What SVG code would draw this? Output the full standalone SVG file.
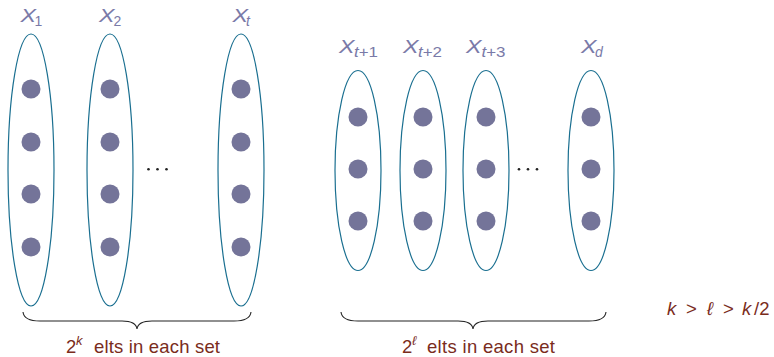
<svg xmlns="http://www.w3.org/2000/svg" width="774" height="357" viewBox="0 0 774 357">
<style>
.set{fill:none;stroke:#1a6f90;stroke-width:1.2}
.dot{fill:#747499}
.lbl{font-family:"Liberation Sans",Arial,sans-serif;font-size:18px;fill:#7a7aa8;font-style:italic}
.sub{font-family:"Liberation Sans",Arial,sans-serif;font-size:14px;fill:#7a7aa8}
.it{font-style:italic}
.brace{fill:none;stroke:#222;stroke-width:1.1}
.note{font-family:"Liberation Sans",Arial,sans-serif;font-size:18.5px;fill:#7a2c1c}
.sup{font-family:"Liberation Sans",Arial,sans-serif;font-size:13px;fill:#7a2c1c;font-style:italic}
.sm{fill:#222}
</style>
<rect width="774" height="357" fill="#fff"/>
<g id="set1">
<ellipse class="set" cx="31" cy="170" rx="23" ry="136"/>
<circle class="dot" cx="31" cy="89" r="9.5"/><circle class="dot" cx="31" cy="142" r="9.5"/><circle class="dot" cx="31" cy="194" r="9.5"/><circle class="dot" cx="31" cy="247" r="9.5"/>
<text class="lbl" x="20.5" y="22" textLength="15.5" lengthAdjust="spacingAndGlyphs">X</text>
<text class="sub" x="34.5" y="25.5">1</text>
</g>
<g id="set2">
<ellipse class="set" cx="110" cy="170" rx="23" ry="136"/>
<circle class="dot" cx="110" cy="89" r="9.5"/><circle class="dot" cx="110" cy="142" r="9.5"/><circle class="dot" cx="110" cy="194" r="9.5"/><circle class="dot" cx="110" cy="247" r="9.5"/>
<text class="lbl" x="99" y="22" textLength="15.5" lengthAdjust="spacingAndGlyphs">X</text>
<text class="sub" x="113.5" y="25.5">2</text>
</g>
<g id="sett">
<ellipse class="set" cx="241" cy="170" rx="23" ry="136"/>
<circle class="dot" cx="241" cy="89" r="9.5"/><circle class="dot" cx="241" cy="142" r="9.5"/><circle class="dot" cx="241" cy="194" r="9.5"/><circle class="dot" cx="241" cy="247" r="9.5"/>
<text class="lbl" x="232.5" y="22" textLength="15.5" lengthAdjust="spacingAndGlyphs">X</text>
<text class="sub it" x="246" y="25.5">t</text>
</g>
<g id="dots1" class="sm"><circle cx="148.5" cy="169.3" r="1.3"/><circle cx="157.5" cy="169.3" r="1.3"/><circle cx="166.5" cy="169.3" r="1.3"/></g>
<g id="sett1">
<ellipse class="set" cx="358" cy="170.5" rx="23" ry="100"/>
<circle class="dot" cx="358" cy="117" r="9.5"/><circle class="dot" cx="358" cy="169" r="9.5"/><circle class="dot" cx="358" cy="221" r="9.5"/>
<text class="lbl" x="339" y="53" textLength="15.5" lengthAdjust="spacingAndGlyphs">X</text>
<text class="sub" x="354" y="56.5" textLength="24" lengthAdjust="spacingAndGlyphs"><tspan class="it">t</tspan>+1</text>
</g>
<g id="sett2">
<ellipse class="set" cx="423" cy="170.5" rx="23" ry="100"/>
<circle class="dot" cx="423" cy="117" r="9.5"/><circle class="dot" cx="423" cy="169" r="9.5"/><circle class="dot" cx="423" cy="221" r="9.5"/>
<text class="lbl" x="403" y="53" textLength="15.5" lengthAdjust="spacingAndGlyphs">X</text>
<text class="sub" x="418" y="56.5" textLength="24" lengthAdjust="spacingAndGlyphs"><tspan class="it">t</tspan>+2</text>
</g>
<g id="sett3">
<ellipse class="set" cx="486" cy="170.5" rx="23" ry="100"/>
<circle class="dot" cx="486" cy="117" r="9.5"/><circle class="dot" cx="486" cy="169" r="9.5"/><circle class="dot" cx="486" cy="221" r="9.5"/>
<text class="lbl" x="466" y="53" textLength="15.5" lengthAdjust="spacingAndGlyphs">X</text>
<text class="sub" x="481.5" y="56.5" textLength="24" lengthAdjust="spacingAndGlyphs"><tspan class="it">t</tspan>+3</text>
</g>
<g id="dots2" class="sm"><circle cx="519" cy="169.3" r="1.3"/><circle cx="528" cy="169.3" r="1.3"/><circle cx="537" cy="169.3" r="1.3"/></g>
<g id="setd">
<ellipse class="set" cx="591" cy="170.5" rx="23" ry="100"/>
<circle class="dot" cx="591" cy="117" r="9.5"/><circle class="dot" cx="591" cy="169" r="9.5"/><circle class="dot" cx="591" cy="221" r="9.5"/>
<text class="lbl" x="581" y="53" textLength="15.5" lengthAdjust="spacingAndGlyphs">X</text>
<text class="sub it" x="595" y="56.5">d</text>
</g>
<g id="connectors">
<path class="brace" d="M23,312 Q24,321 40,321 L122,321 Q136,321 137,329 Q138,321 152,321 L234,321 Q250,321 251,312"/>
<path class="brace" d="M341,312 Q342,321 358,321 L458,321 Q472,321 473,329 Q474,321 488,321 L589,321 Q605,321 606,312"/>
</g>
<g id="brace1label">
<text class="note" x="66" y="353">2</text>
<text class="sup" x="76" y="345">k</text>
<text class="note" x="94" y="353" textLength="126" lengthAdjust="spacing">elts in each set</text>
</g>
<g id="brace2label">
<text class="note" x="402" y="353">2</text>
<text class="sup" x="412" y="345">ℓ</text>
<text class="note" x="427" y="353" textLength="128" lengthAdjust="spacing">elts in each set</text>
</g>
<g id="cond">
<text class="note" x="667" y="315" font-style="italic">k</text>
<text class="note" x="686" y="315">&gt;</text>
<text class="note" x="707" y="315" font-style="italic">ℓ</text>
<text class="note" x="723" y="315">&gt;</text>
<text class="note" x="742" y="315" font-style="italic">k</text>
<text class="note" x="754" y="315">/2</text>
</g>
</svg>
